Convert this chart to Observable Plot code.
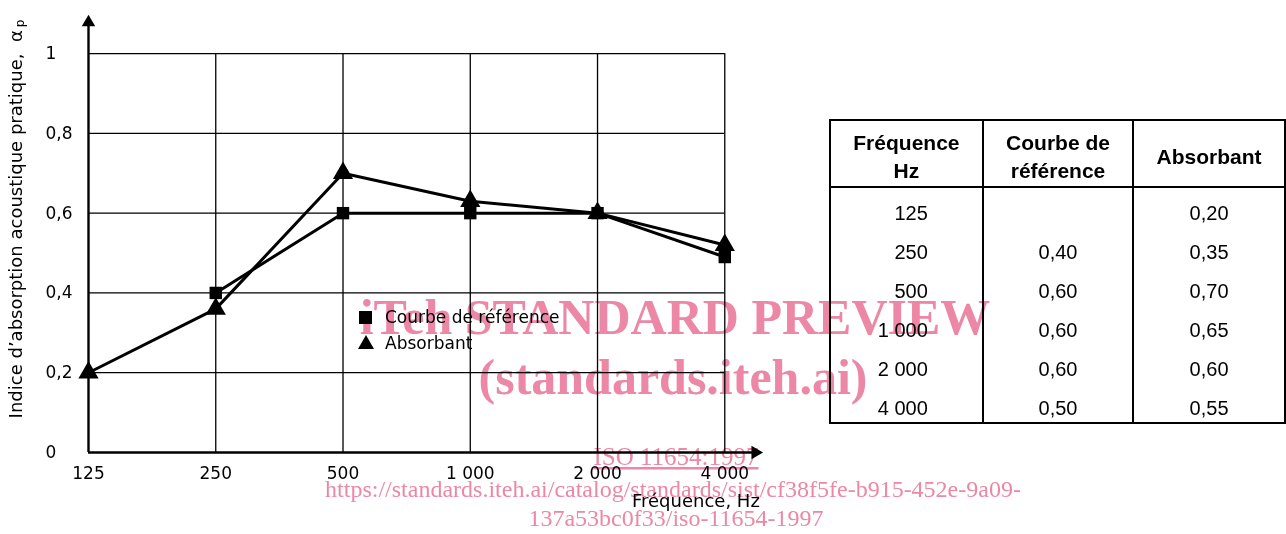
<!DOCTYPE html>
<html><head><meta charset="utf-8">
<script src="https://cdn.jsdelivr.net/npm/d3@7"></script>
<script src="https://cdn.jsdelivr.net/npm/@observablehq/plot@0.6"></script>
<style>
body{margin:0;background:#fff;}
#wrap{position:relative;width:1286px;height:534px;overflow:hidden;font-family:"DejaVu Sans",sans-serif;color:#000;}
#wrap > svg{position:absolute;left:0;top:0;}
.ylab{position:absolute;left:-202px;top:206px;width:440px;text-align:center;font-size:18px;line-height:22px;transform:rotate(-90deg);transform-origin:50% 50%;white-space:nowrap;}
.ylab sub{font-size:12px;vertical-align:-2px;margin-left:3px;}
.xlab{position:absolute;left:632px;top:490px;font-size:18px;white-space:nowrap;}
.leg{position:absolute;font-size:17px;white-space:nowrap;line-height:20px;}
.sq{position:absolute;width:13px;height:13px;background:#000;}
.tri{position:absolute;width:0;height:0;border-left:8px solid transparent;border-right:8px solid transparent;border-bottom:14px solid #000;}
table.t{position:absolute;left:829px;top:119px;border-collapse:collapse;font-family:"Liberation Sans",Arial,sans-serif;}
table.t th{border:2px solid #000;font-weight:bold;font-size:21px;line-height:28px;height:65px;padding:0;vertical-align:middle;text-align:center;}
table.t th span{position:relative;top:3px;}
table.t td{border-left:2px solid #000;border-right:2px solid #000;font-size:20px;height:39px;padding:0;vertical-align:middle;}
table.t tr:last-child td{border-bottom:2px solid #000;}
table.t td.c0{text-align:right;padding-right:54px;}
table.t td.c1,table.t td.c2{text-align:center;}
table.t td span{position:relative;top:6px;}
#wm{position:absolute;left:0;top:0;mix-blend-mode:multiply;pointer-events:none;}
</style></head><body><div id="wrap"></div>
<script>
// ---- data ----
const freqLabels = ["125", "250", "500", "1 000", "2 000", "4 000"];
const refCurve   = [null, 0.40, 0.60, 0.60, 0.60, 0.49];
const absorbant  = [0.20, 0.36, 0.70, 0.63, 0.60, 0.52];
const yTicks     = [0, 0.2, 0.4, 0.6, 0.8, 1];
const seriesNames = ["Courbe de référence", "Absorbant"];
const tableHeaders = ["Fréquence<br>Hz", "Courbe de<br>référence", "Absorbant"];
const tableFreq = ["125", "250", "500", "1 000", "2 000", "4 000"];
const tableRef  = ["", "0,40", "0,60", "0,60", "0,60", "0,50"];
const tableAbs  = ["0,20", "0,35", "0,70", "0,65", "0,60", "0,55"];

const refData = refCurve.map((v, i) => ({i, v})).filter(d => d.v != null);
const absData = absorbant.map((v, i) => ({i, v}));
const last = freqLabels.length - 1;
const xMax = 5.32, yMax = 1.108;
const fmt = v => v === 0 ? "0" : v === 1 ? "1" : String(v).replace(".", ",");

const chart = Plot.plot({
  width: 780, height: 534,
  marginLeft: 88, marginRight: 15, marginTop: 10, marginBottom: 82,
  style: {fontFamily: "DejaVu Sans", fontSize: "17px", color: "#000", background: "transparent", overflow: "visible"},
  x: {domain: [0, xMax]},
  y: {domain: [0, yMax]},
  marks: [
    Plot.ruleX(d3.range(1, freqLabels.length), {x: d => d, y1: 0, y2: 1, stroke: "#000", strokeWidth: 1.3}),
    Plot.ruleY(yTicks.slice(1), {y: d => d, x1: 0, x2: last, stroke: "#000", strokeWidth: 1.3}),
    Plot.ruleX([0], {x: d => d, y1: 0, y2: yMax - 0.02, stroke: "#000", strokeWidth: 2.4}),
    Plot.ruleY([0], {y: d => d, x1: 0, x2: xMax - 0.1, stroke: "#000", strokeWidth: 2.4}),
    Plot.dot([0], {x: 0, y: yMax - 0.03, symbol: "triangle", r: 5, fill: "#000", stroke: null}),
    Plot.dot([0], {x: xMax - 0.08, y: 0, symbol: "triangle", r: 5, rotate: 90, fill: "#000", stroke: null}),
    Plot.line(refData, {x: "i", y: "v", stroke: "#000", strokeWidth: 3}),
    Plot.line(absData, {x: "i", y: "v", stroke: "#000", strokeWidth: 3}),
    Plot.dot(refData, {x: "i", y: "v", symbol: "square", r: 7, fill: "#000", stroke: null}),
    Plot.dot(absData, {x: "i", y: "v", symbol: "triangle", r: 7.5, fill: "#000", stroke: null}),
    Plot.axisY(yTicks, {tickSize: 0, tickPadding: 43, textAnchor: "start", tickFormat: fmt, label: null}),
    Plot.axisX(d3.range(freqLabels.length), {tickSize: 0, tickPadding: 14, tickFormat: i => freqLabels[i], label: null})
  ]
});

const wrap = d3.select("#wrap");
wrap.node().appendChild(chart);

wrap.append("div").attr("class", "ylab").html("Indice d’absorption acoustique pratique,&nbsp;&nbsp;α<sub>p</sub>");
wrap.append("div").attr("class", "xlab").text("Fréquence, Hz");

// legend
wrap.append("div").attr("class", "sq").style("left", "359px").style("top", "311px");
wrap.append("div").attr("class", "leg").style("left", "385px").style("top", "307px").text(seriesNames[0]);
wrap.append("div").attr("class", "tri").style("left", "358px").style("top", "335px");
wrap.append("div").attr("class", "leg").style("left", "385px").style("top", "333px").text(seriesNames[1]);

// table
const table = wrap.append("table").attr("class", "t");
const widths = [153, 151, 152];
table.append("tr").selectAll("th").data(tableHeaders).join("th")
  .style("width", (d, i) => widths[i] + "px").append("span").html(d => d);
tableFreq.forEach((f, r) => {
  const tr = table.append("tr");
  [f, tableRef[r], tableAbs[r]].forEach((v, c) => {
    tr.append("td").attr("class", "c" + c).append("span").text(v);
  });
});

// watermark
const wm = wrap.append("svg").attr("id", "wm").attr("width", 1286).attr("height", 534)
  .style("font-family", "'Liberation Serif', serif").attr("fill", "rgb(236,135,166)");
wm.append("text").attr("x", 675).attr("y", 334).attr("text-anchor", "middle")
  .attr("font-size", 50).attr("font-weight", "bold").text("iTeh STANDARD PREVIEW");
wm.append("text").attr("x", 673).attr("y", 394).attr("text-anchor", "middle")
  .attr("font-size", 50).attr("font-weight", "bold").text("(standards.iteh.ai)");
wm.append("text").attr("x", 676).attr("y", 465).attr("text-anchor", "middle")
  .attr("font-size", 25).style("text-decoration", "underline").text("ISO 11654:1997");
wm.append("text").attr("x", 673).attr("y", 497).attr("text-anchor", "middle")
  .attr("font-size", 24).text("https://standards.iteh.ai/catalog/standards/sist/cf38f5fe-b915-452e-9a09-");
wm.append("text").attr("x", 676).attr("y", 526).attr("text-anchor", "middle")
  .attr("font-size", 24).text("137a53bc0f33/iso-11654-1997");
</script>
</body></html>
